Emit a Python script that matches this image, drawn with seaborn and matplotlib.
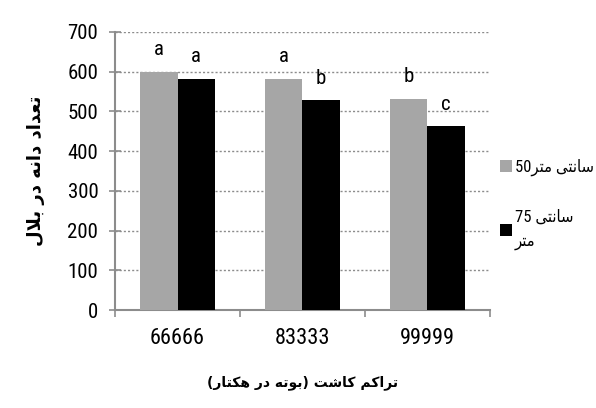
import matplotlib
matplotlib.use("Agg")
import matplotlib.pyplot as plt
from matplotlib import font_manager
import seaborn as sns
import pandas as pd

# داده ها
densities = ["66666", "83333", "99999"]
row_50 = [600, 582, 532]
row_75 = [582, 528, 463]
letters_50 = ["a", "a", "b"]
letters_75 = ["a", "b", "c"]
yticks = [0, 100, 200, 300, 400, 500, 600, 700]

# contextual forms: (isolated, final, initial, medial); None -> letter does not join forward
FORMS = {
    "ا": ("\uFE8D", "\uFE8E", None, None),
    "ب": ("\uFE8F", "\uFE90", "\uFE91", "\uFE92"),
    "ت": ("\uFE95", "\uFE96", "\uFE97", "\uFE98"),
    "د": ("\uFEA9", "\uFEAA", None, None),
    "ر": ("\uFEAD", "\uFEAE", None, None),
    "س": ("\uFEB1", "\uFEB2", "\uFEB3", "\uFEB4"),
    "ش": ("\uFEB5", "\uFEB6", "\uFEB7", "\uFEB8"),
    "ع": ("\uFEC9", "\uFECA", "\uFECB", "\uFECC"),
    "ک": ("\uFED9", "\uFEDA", "\uFEDB", "\uFEDC"),
    "ل": ("\uFEDD", "\uFEDE", "\uFEDF", "\uFEE0"),
    "م": ("\uFEE1", "\uFEE2", "\uFEE3", "\uFEE4"),
    "ن": ("\uFEE5", "\uFEE6", "\uFEE7", "\uFEE8"),
    "ه": ("\uFEE9", "\uFEEA", "\uFEEB", "\uFEEC"),
    "و": ("\uFEED", "\uFEEE", None, None),
    "ی": ("\uFEEF", "\uFEF0", "\uFEF3", "\uFEF4"),
}


def shape(text):
    """very small persian shaper: contextual forms + visual (reversed) order"""
    out = []
    i = 0
    n = len(text)
    while i < n:
        ch = text[i]
        if ch not in FORMS:
            out.append(ch)
            i += 1
            continue
        prev = text[i - 1] if i > 0 else ""
        joins_prev = prev in FORMS and FORMS[prev][2] is not None
        # lam-alef ligature
        if ch == "ل" and i + 1 < n and text[i + 1] == "ا":
            out.append("\uFEFC" if joins_prev else "\uFEFB")
            i += 2
            continue
        nxt = text[i + 1] if i + 1 < n else ""
        joins_next = FORMS[ch][2] is not None and nxt in FORMS
        iso, fin, ini, med = FORMS[ch]
        if joins_prev and joins_next:
            out.append(med)
        elif joins_prev:
            out.append(fin)
        elif joins_next:
            out.append(ini)
        else:
            out.append(iso)
        i += 1
    vis = "".join(reversed(out))
    return vis.translate(str.maketrans("()", ")("))


def pick_font(cands):
    for name in cands:
        try:
            font_manager.findfont(font_manager.FontProperties(family=name),
                                  fallback_to_default=False)
            return name
        except Exception:
            pass
    return "DejaVu Sans"


narrow_name = pick_font(["Liberation Sans Narrow", "Roboto Condensed",
                         "Open Sans Condensed", "Noto Sans Condensed",
                         "Liberation Sans"])
narrow = [narrow_name, "DejaVu Sans"]
num_prop = dict(family=narrow, fontstretch="condensed")

df = pd.DataFrame({
    "density": densities * 2,
    "value": row_50 + row_75,
    "row": ["50"] * 3 + ["75"] * 3,
})

fig = plt.figure(figsize=(5.96, 4.08), dpi=100)
ax = fig.add_axes([0.193, 0.24, 0.629, 0.682])

sns.barplot(data=df, x="density", y="value", hue="row",
            palette=["#a6a6a6", "#000000"], width=0.6, gap=0,
            saturation=1, ax=ax, zorder=3)

ax.set_ylim(0, 700)
ax.set_yticks(yticks)
ax.set_yticklabels([str(t) for t in yticks], fontsize=15, **num_prop)
ax.set_xticks([0, 1, 2])
ax.set_xticklabels(densities, fontsize=16, **num_prop)
ax.set_xlim(-0.5, 2.5)
# ticks between categories on the x axis
ax.set_xticks([-0.5, 0.5, 1.5, 2.5], minor=True)
ax.tick_params(axis="x", which="major", length=0, pad=13)
ax.tick_params(axis="x", which="minor", length=5, color="#8c8c8c", direction="out", width=1.2)
ax.tick_params(axis="y", length=8, color="#8c8c8c", direction="inout", width=1.2, pad=8)

for y in yticks[1:]:
    ax.axhline(y, color="#8c8c8c", linestyle=(0, (1.5, 1.5)), linewidth=1, zorder=1)

for side in ["top", "right"]:
    ax.spines[side].set_visible(False)
for side in ["left", "bottom"]:
    ax.spines[side].set_color("#8c8c8c")
    ax.spines[side].set_linewidth(1.5)

# حروف مقایسه میانگین
for cont, labs in zip(ax.containers, [letters_50, letters_75]):
    for bar, lab in zip(cont, labs):
        ax.annotate(lab, (bar.get_x() + bar.get_width() / 2, bar.get_height()),
                    xytext=(0, 9), textcoords="offset points",
                    ha="center", va="bottom", fontsize=15, family=narrow)

ax.set_xlabel(shape("تراکم کاشت (بوته در هکتار)"), fontsize=10,
              fontweight="bold", family=["DejaVu Sans"], labelpad=19)
ax.set_ylabel(shape("تعداد دانه در بلال"), fontsize=13,
              fontweight="bold", family=["DejaVu Sans"], labelpad=16)

handles, _ = ax.get_legend_handles_labels()
lab1 = "50" + shape("متر") + " " + shape("سانتی")
lab2 = "75 " + shape("سانتی") + "\n" + shape("متر")
leg = ax.legend(handles, [lab1, lab2], loc="center left",
                bbox_to_anchor=(1.0, 0.38), frameon=False,
                handlelength=0.75, handleheight=0.75, handletextpad=0.15,
                labelspacing=2.0, borderaxespad=0.2,
                prop={"family": narrow, "size": 12, "stretch": "condensed"})
for t in leg.get_texts():
    t.set_linespacing(1.75)

fig.savefig("out.png", dpi=100)
